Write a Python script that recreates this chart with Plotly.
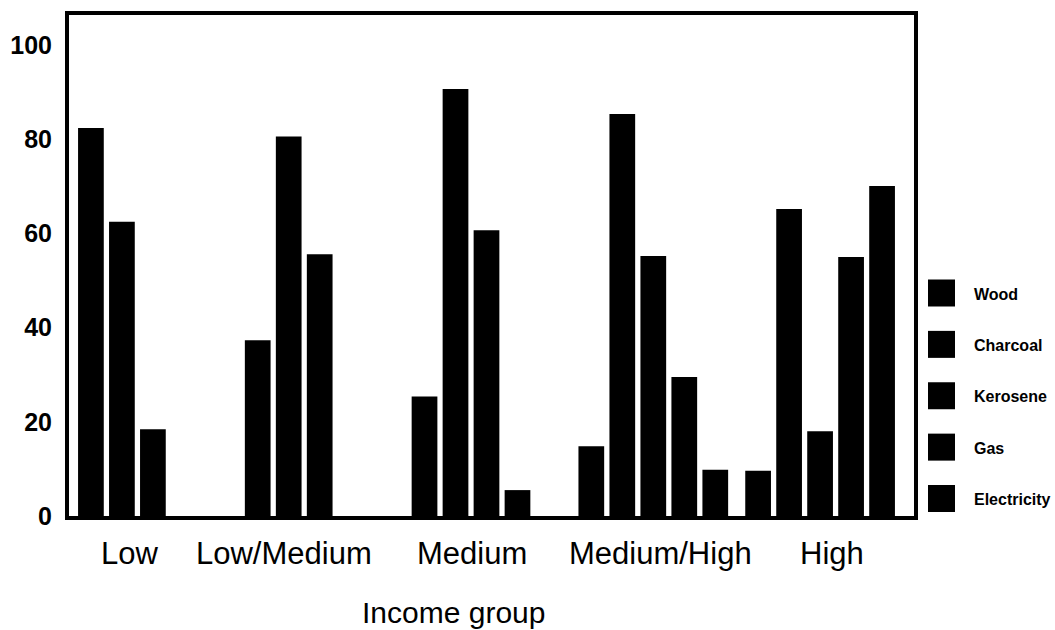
import plotly.graph_objects as go

# ---- data ----
income_groups = ["Low", "Low/Medium", "Medium", "Medium/High", "High"]
series_names = ["Wood", "Charcoal", "Kerosene", "Gas", "Electricity"]
wood = [82.4, 37.3, 25.4, 14.8, 9.6]
charcoal = [62.5, 80.6, 90.7, 85.4, 65.2]
kerosene = [18.4, 55.6, 60.7, 55.2, 18.0]
gas = [0, 0, 5.5, 29.5, 55.0]
electricity = [0, 0, 0, 9.8, 70.1]
y_tick_values = [0, 20, 40, 60, 80, 100]
x_axis_title = "Income group"

series_values = [wood, charcoal, kerosene, gas, electricity]

# ---- geometry helpers (layout only) ----
W, H = 1055, 630
L, R, T, B = 69, 914, 15, 516  # plot-area pixel box


def px_x(px):
    return (px - L) / (R - L)


def px_y(py):
    return (B - py) / (B - T)


FONT = "Liberation Sans, Arial, sans-serif"
# horizontal nudges of the category labels (pixels), as in the original layout
label_shift_px = [-23, -36, -15, 7, 12]

fig = go.Figure()
for name, vals in zip(series_names, series_values):
    fig.add_trace(go.Bar(
        name=name, x=income_groups, y=vals,
        marker=dict(color="black", line=dict(width=0)),
        showlegend=False,
    ))

fig.update_layout(
    width=W, height=H,
    margin=dict(l=L, r=W - R, t=T, b=H - B, pad=0, autoexpand=False),
    paper_bgcolor="white", plot_bgcolor="white",
    barmode="group", bargap=0.071, bargroupgap=0.17,
    showlegend=False,
    xaxis=dict(
        type="category", range=[-0.503, 4.563], automargin=False,
        showline=True, linewidth=4, linecolor="black", mirror=True,
        ticks="", showgrid=False, zeroline=False, showticklabels=False,
    ),
    yaxis=dict(
        range=[0, 106.4], tickvals=y_tick_values, automargin=False,
        showline=True, linewidth=4, linecolor="black", mirror=True,
        ticks="", showgrid=False, zeroline=False,
        tickfont=dict(family=FONT, size=25, color="black", weight="bold"),
        ticklabelstandoff=8,
    ),
)

# category labels under each group
for grp, dx in zip(income_groups, label_shift_px):
    fig.add_annotation(
        text=grp, xref="x", yref="paper", x=grp, y=px_y(553),
        xanchor="center", yanchor="middle", xshift=dx,
        showarrow=False, font=dict(family=FONT, size=31, color="black"),
    )

# axis title
fig.add_annotation(
    text=x_axis_title, xref="paper", yref="paper",
    x=px_x(453), y=px_y(612), xanchor="center", yanchor="middle",
    showarrow=False, font=dict(family=FONT, size=30, color="black"),
)

# legend: large square swatches with bold labels
n = len(series_names)
top_c, bot_c = 293, 498.5
for i, name in enumerate(series_names):
    cy = top_c + i * (bot_c - top_c) / (n - 1)
    fig.add_shape(
        type="rect", xref="paper", yref="paper",
        x0=px_x(928), x1=px_x(955), y0=px_y(cy + 13.5), y1=px_y(cy - 13.5),
        fillcolor="black", line=dict(width=0),
    )
    fig.add_annotation(
        text=name, xref="paper", yref="paper",
        x=px_x(972), y=px_y(cy + 1), xanchor="left", yanchor="middle",
        showarrow=False,
        font=dict(family=FONT, size=16, color="black", weight="bold"),
    )

fig.write_html("out.html")
